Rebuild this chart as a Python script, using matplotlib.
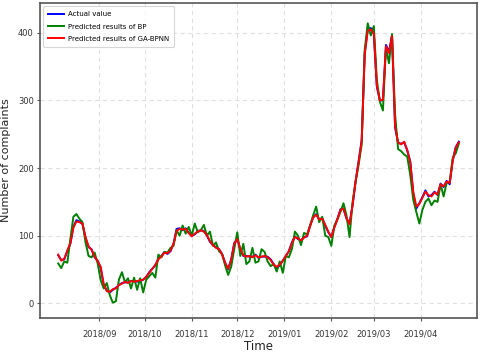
import matplotlib
matplotlib.use("Agg")
import matplotlib.pyplot as plt
import pandas as pd

# samples every 2 days from 2018-08-05
dates = pd.date_range("2018-08-05", periods=133, freq="2D")

actual = [
    71, 64, 65, 77, 88, 113, 123, 121, 117, 97, 83, 80, 68, 63, 52, 27, 19, 16, 20, 23,
    27, 30, 31, 31, 33, 33, 32, 33, 35, 39, 46, 51, 56, 66, 70, 76, 73, 77, 88, 110,
    111, 108, 111, 104, 100, 102, 107, 108, 107, 100, 91, 86, 83, 80, 73, 60, 50, 65, 89, 95,
    80, 70, 70, 69, 69, 72, 67, 69, 69, 69, 65, 58, 52, 56, 63, 70, 77, 90, 99, 95,
    93, 98, 99, 115, 127, 132, 124, 126, 115, 105, 98, 113, 125, 139, 140, 125, 118, 145, 180, 210,
    241, 370, 405, 407, 398, 320, 300, 300, 382, 372, 396, 260, 237, 236, 238, 226, 210, 162, 140, 148,
    157, 167, 158, 160, 165, 160, 177, 172, 181, 176, 212, 231, 239,
]

ga_bpnn = [
    72, 63, 66, 78, 89, 112, 121, 120, 118, 98, 84, 79, 69, 62, 54, 28, 18, 17, 21, 22,
    27, 29, 32, 30, 33, 32, 33, 34, 35, 39, 45, 51, 57, 65, 69, 75, 74, 78, 88, 107,
    110, 109, 110, 104, 99, 103, 106, 108, 106, 101, 92, 86, 82, 80, 72, 60, 51, 64, 88, 95,
    81, 71, 69, 70, 68, 71, 68, 69, 70, 68, 64, 57, 54, 57, 63, 70, 77, 89, 98, 96,
    93, 97, 100, 114, 127, 131, 124, 125, 116, 106, 98, 112, 124, 138, 140, 126, 117, 145, 181, 209,
    240, 368, 403, 405, 399, 322, 300, 301, 380, 370, 395, 262, 238, 235, 239, 227, 209, 165, 143, 147,
    156, 165, 160, 158, 164, 161, 176, 173, 180, 178, 211, 230, 238,
]

bp = [
    59, 52, 62, 60, 95, 128, 132, 125, 120, 90, 70, 68, 75, 59, 34, 22, 30, 12, 1, 3,
    35, 46, 31, 37, 22, 38, 20, 37, 16, 35, 40, 45, 38, 72, 68, 76, 75, 82, 85, 108,
    100, 115, 103, 113, 100, 118, 105, 108, 116, 100, 106, 85, 90, 77, 73, 56, 42, 54, 80, 105,
    70, 88, 58, 62, 82, 60, 62, 80, 76, 62, 55, 58, 47, 62, 45, 70, 68, 80, 106, 100,
    86, 104, 102, 115, 130, 143, 120, 128, 100, 98, 85, 115, 124, 135, 148, 130, 98, 150, 180, 205,
    235, 375, 414, 396, 410, 330, 298, 285, 378, 355, 398, 280, 228, 225, 220, 217, 190, 153, 135, 118,
    138, 150, 155, 145, 152, 150, 176, 158, 178, 180, 215, 222, 236,
]

month_ticks = ["2018-09-01", "2018-10-01", "2018-11-01", "2018-12-01",
               "2019-01-01", "2019-02-01", "2019-03-01", "2019-04-01"]
month_labels = ["2018/09", "2018/10", "2018/11", "2018/12",
                "2019/01", "2019/02", "2019/03", "2019/04"]

fig = plt.figure(figsize=(4.8, 3.54), dpi=100)
ax = fig.add_axes([40 / 480, 36 / 354, 437 / 480, 315 / 354])

ax.plot(dates, actual, color="blue", linewidth=1.4, label="Actual value")
ax.plot(dates, bp, color="green", linewidth=1.4, label="Predicted results of BP")
ax.plot(dates, ga_bpnn, color="red", linewidth=1.4, label="Predicted results of GA-BPNN")

ax.set_xlim(pd.Timestamp("2018-07-24"), pd.Timestamp("2019-05-08"))
ax.set_ylim(-21.7, 444)
ax.set_yticks([0, 100, 200, 300, 400])
ax.set_xticks(pd.to_datetime(month_ticks))
ax.set_xticklabels(month_labels)

ax.grid(True, linestyle=(0, (4, 3)), color="#e0e0e0", linewidth=0.8)
ax.tick_params(axis="both", labelsize=6, length=2.5, width=0.8, color="#555555", labelcolor="#333333")
ax.tick_params(axis="x", pad=6)
ax.tick_params(axis="y", pad=2)
for s in ax.spines.values():
    s.set_color("#555555")
    s.set_linewidth(1.2)

ax.set_xlabel("Time", fontsize=8.5, color="#222222", labelpad=1)
ax.set_ylabel("Number of complaints", fontsize=8, color="#222222", labelpad=5)

leg = ax.legend(loc="upper left", fontsize=5, frameon=True, borderpad=0.7,
                handlelength=2.2, handletextpad=0.6, labelspacing=0.9)
leg.get_frame().set_edgecolor("#cccccc")
leg.get_frame().set_linewidth(0.8)

fig.savefig("out.png", dpi=100)
